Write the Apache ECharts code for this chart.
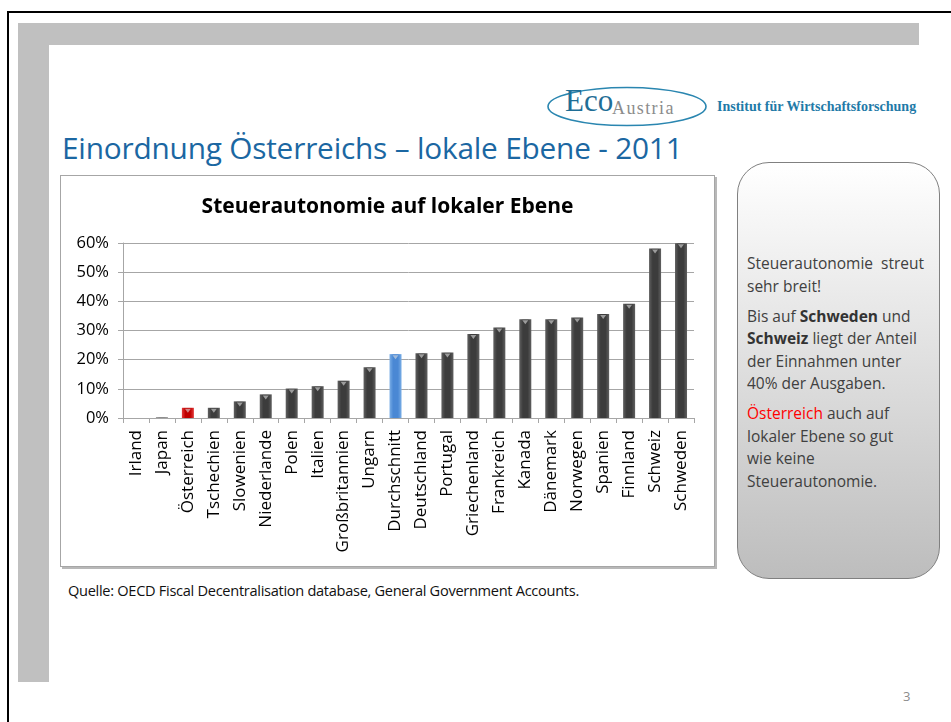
<!DOCTYPE html>
<html>
<head>
<meta charset="utf-8">
<script src="https://cdn.jsdelivr.net/npm/echarts@6/dist/echarts.min.js"></script>
<style>
  html, body { margin: 0; padding: 0; background: #fff; }
  body { width: 951px; height: 722px; position: relative; overflow: hidden; font-family: 'Open Sans', sans-serif; }
  .abs { position: absolute; }
  .black { background: #000; }
  .band { background: #c0c0c0; }
  #slideTitle { left: 62px; top: 127px; font-size: 29.8px; color: #1b67a2; white-space: nowrap; letter-spacing: -0.2px; }
  #frame { left: 60px; top: 175px; width: 653px; height: 390px; border: 1px solid #a6a6a6; box-shadow: 2px 2px 0 #b8b8b8; }
  #chart { left: 61px; top: 176px; width: 653px; height: 390px; }
  #box { left: 737px; top: 162px; width: 203px; height: 417px; border: 1px solid #808080; border-radius: 32px;
         background: linear-gradient(#ffffff, #bdbdbd); box-sizing: border-box; }
  #boxText { left: 747px; top: 252px; font-size: 15.5px; line-height: 22.5px; color: #404040; white-space: nowrap; }
  #boxText p { margin: 0 0 7.5px 0; }
  #boxText b { color: #333; }
  #quelle { left: 68px; top: 580px; font-size: 14.6px; color: #111; white-space: nowrap; letter-spacing: -0.3px; }
  #pnum { left: 903px; top: 687px; font-size: 13px; color: #8c8c8c; }
  #inst { left: 717px; top: 99px; font-family: 'Liberation Serif', serif; font-weight: bold; font-size: 14px; color: #1f7aa8; white-space: nowrap; }
</style>
</head>
<body>
<div class="abs black" style="left:7px;top:11px;width:944px;height:2px;"></div>
<div class="abs black" style="left:7px;top:11px;width:2px;height:711px;"></div>
<div class="abs band" style="left:18px;top:23px;width:901px;height:22px;"></div>
<div class="abs band" style="left:18px;top:23px;width:31px;height:659px;"></div>

<svg class="abs" style="left:540px;top:82px;" width="175" height="50">
  <ellipse cx="87" cy="24.5" rx="79" ry="19" fill="none" stroke="#2a86b0" stroke-width="1.6"/>
  <text x="72" y="32" font-family="Liberation Serif, serif" font-size="18" fill="#8c8c8c" letter-spacing="1.4">Austria</text>
  <text x="25" y="29" font-family="Liberation Serif, serif" font-size="31" fill="#1f6e96">Eco</text>
</svg>
<div id="inst" class="abs">Institut für Wirtschaftsforschung</div>

<div id="slideTitle" class="abs">Einordnung Österreichs – lokale Ebene - 2011</div>

<div id="frame" class="abs"></div>
<div id="chart" class="abs"></div>

<div id="box" class="abs"></div>
<div id="boxText" class="abs">
  <p>Steuerautonomie&nbsp; streut<br>sehr breit!</p>
  <p>Bis auf <b>Schweden</b> und<br><b>Schweiz</b> liegt der Anteil<br>der Einnahmen unter<br>40% der Ausgaben.</p>
  <p><span style="color:#ff0000">Österreich</span> auch auf<br>lokaler Ebene so gut<br>wie keine<br>Steuerautonomie.</p>
</div>

<div id="quelle" class="abs">Quelle: OECD Fiscal Decentralisation database, General Government Accounts.</div>
<div id="pnum" class="abs">3</div>

<script>
// Länder und Anteil (in %) der eigenen Steuern
var countries = ['Irland', 'Japan', 'Österreich', 'Tschechien', 'Slowenien', 'Niederlande', 'Polen', 'Italien',
  'Großbritannien', 'Ungarn', 'Durchschnitt', 'Deutschland', 'Portugal', 'Griechenland', 'Frankreich', 'Kanada',
  'Dänemark', 'Norwegen', 'Spanien', 'Finnland', 'Schweiz', 'Schweden'];
var values = [0, 0.2, 3.5, 3.5, 5.7, 8.1, 10.1, 10.9, 12.8, 17.4, 21.9, 22.2, 22.5, 28.8, 31.0, 33.9,
  33.9, 34.5, 35.7, 39.2, 58.1, 59.9];
var yTicks = [0, 10, 20, 30, 40, 50, 60];

function barGradient(edge, mid) {
  return new echarts.graphic.LinearGradient(0, 0, 1, 0, [
    { offset: 0, color: edge },
    { offset: 0.3, color: mid },
    { offset: 0.7, color: mid },
    { offset: 1, color: edge }
  ]);
}

function colorFor(name) {
  if (name === 'Österreich') return barGradient('#e23a3a', '#c00000');
  if (name === 'Durchschnitt') return barGradient('#7aaee6', '#4a88d4');
  return barGradient('#606060', '#3c3c3c');
}

var barData = values.map(function (v, i) {
  return { value: v, itemStyle: { color: colorFor(countries[i]) } };
});

var chart = echarts.init(document.getElementById('chart'));
chart.setOption({
  animation: false,
  textStyle: { fontFamily: 'Open Sans' },
  title: {
    text: 'Steuerautonomie auf lokaler Ebene',
    left: 'center',
    top: 16,
    textStyle: { fontSize: 21, fontWeight: 'bold', color: '#000', fontFamily: 'Open Sans' }
  },
  grid: { left: 62, right: 20, top: 67, bottom: 148 },
  xAxis: {
    type: 'category',
    data: countries,
    axisLine: { lineStyle: { color: '#a6a6a6' } },
    axisTick: { show: true, length: 5, lineStyle: { color: '#a6a6a6' } },
    axisLabel: { interval: 0, rotate: 90, margin: 12, fontSize: 17, color: '#000' }
  },
  yAxis: {
    type: 'value',
    min: yTicks[0],
    max: yTicks[yTicks.length - 1],
    interval: 10,
    axisLine: { show: true, lineStyle: { color: '#a6a6a6' } },
    axisTick: { show: true, length: 5, lineStyle: { color: '#a6a6a6' } },
    splitLine: { lineStyle: { color: '#a6a6a6' } },
    axisLabel: { formatter: '{value}%', fontSize: 16.5, color: '#000', margin: 14 }
  },
  series: [
    {
      type: 'bar',
      data: barData,
      barWidth: 12
    },
    {
      // kleine Glanzkante oben auf jedem Balken
      type: 'scatter',
      data: values.map(function (v) { return v > 1 ? v : null; }),
      symbol: 'triangle',
      symbolRotate: 180,
      symbolSize: [6, 4],
      symbolOffset: [0, 3],
      itemStyle: { color: 'rgba(220,220,220,0.75)' },
      z: 5
    }
  ]
});
</script>
</body>
</html>
